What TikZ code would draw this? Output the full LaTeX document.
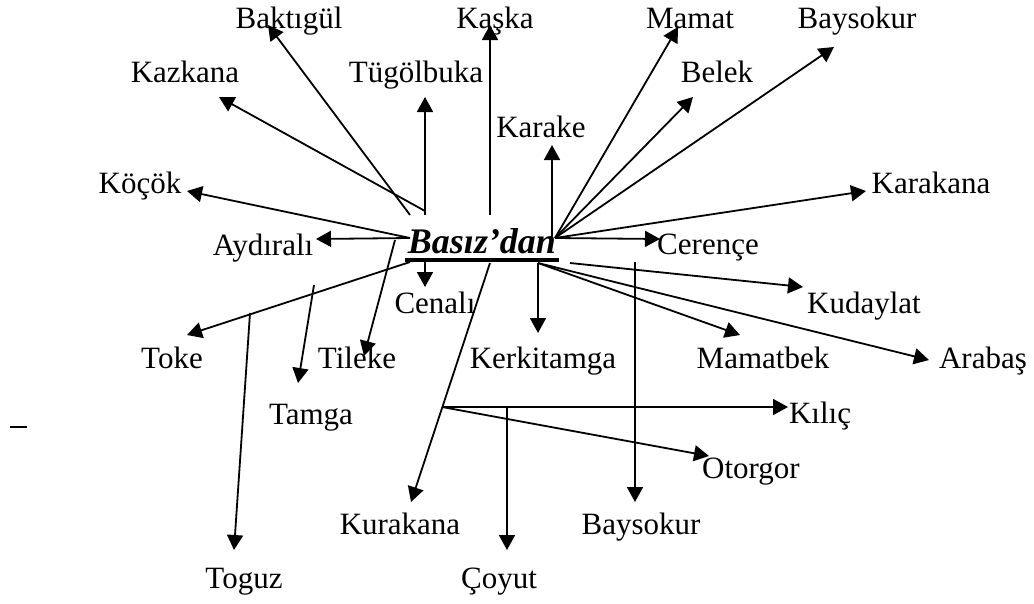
\documentclass[tikz,border=0pt]{standalone}
\usepackage{fontspec}
\setmainfont{Liberation Serif}
\usetikzlibrary{arrows.meta}
\begin{document}
\begin{tikzpicture}[x=1pt,y=-1pt,
  lbl/.style={anchor=base, inner sep=0pt, font=\fontsize{31}{37}\selectfont},
  hub/.style={anchor=base, inner sep=0pt, font=\fontsize{36}{42}\selectfont\bfseries\itshape},
  arr/.style={line width=1.8pt, -{Triangle[length=15pt,width=16pt]}},
  ln/.style={line width=1.8pt}]
\useasboundingbox (0,0) rectangle (1034,603);
% labels
\node[lbl] (baktigul) at (289,28) {Baktıgül};
\node[lbl] (kaska) at (495,28) {Kaşka};
\node[lbl] (mamat) at (690,28) {Mamat};
\node[lbl] (baysokurA) at (857,28) {Baysokur};
\node[lbl] (kazkana) at (185,82) {Kazkana};
\node[lbl] (tugolbuka) at (416,82) {Tügölbuka};
\node[lbl] (belek) at (717,82) {Belek};
\node[lbl] (karake) at (541,137) {Karake};
\node[lbl] (kocok) at (140,193) {Köçök};
\node[lbl] (karakana) at (931,193) {Karakana};
\node[lbl] (aydirali) at (263,255) {Aydıralı};
\node[hub] (basiz) at (482,253) {Basız’dan};
\node[lbl] (cerence) at (708,254) {Cerençe};
\node[lbl] (cenali) at (435,313) {Cenalı};
\node[lbl] (kudaylat) at (864,313) {Kudaylat};
\node[lbl] (toke) at (172,368) {Toke};
\node[lbl] (tileke) at (357,368) {Tileke};
\node[lbl] (kerkitamga) at (543,368) {Kerkitamga};
\node[lbl] (mamatbek) at (763,368) {Mamatbek};
\node[lbl] (arabas) at (983,368) {Arabaş};
\node[lbl] (tamga) at (311,424) {Tamga};
\node[lbl] (kilic) at (820,423) {Kılıç};
\node[lbl] (otorgor) at (751,478) {Otorgor};
\node[lbl] (kurakana) at (400,534) {Kurakana};
\node[lbl] (baysokurB) at (641,534) {Baysokur};
\node[lbl] (toguz) at (244,588) {Toguz};
\node[lbl] (coyut) at (499,588) {Çoyut};
% underline of the centre word and the stray dash
\coordinate (ulA) at (405,260);
\coordinate (ulB) at (559,260);
\draw[line width=3.5pt] (ulA) -- (ulB);
\coordinate (dashA) at (10,427);
\coordinate (dashB) at (27,427);
\draw[line width=2pt] (dashA) -- (dashB);
% start points
\coordinate (sBak) at (410,215);
\coordinate (sKaz) at (425,211);
\coordinate (sTug) at (425,215);
\coordinate (sKas) at (490,215);
\coordinate (hR) at (555,238);
\coordinate (sKarake) at (552,238);
\coordinate (hL) at (410,238);
\coordinate (sTil) at (395,240);
\coordinate (sToke) at (410,262);
\coordinate (sCen) at (425,262);
\coordinate (sKur) at (490,263);
\coordinate (hBR) at (538,263);
\coordinate (sKud) at (570,263);
\coordinate (sBayB) at (635,262);
\coordinate (jn) at (442,407);
\coordinate (sTog) at (250,313);
\coordinate (sTam) at (314,285);
% tips
\coordinate (tBak) at (268,25);
\coordinate (tKaz) at (219,97);
\coordinate (tTug) at (425,97);
\coordinate (tKas) at (490,25);
\coordinate (tKarake) at (552,145);
\coordinate (tMam) at (678,27);
\coordinate (tBel) at (693,97);
\coordinate (tBayA) at (834,47);
\coordinate (tKarakana) at (866,191);
\coordinate (tCer) at (660,239);
\coordinate (tKoc) at (187,191);
\coordinate (tAyd) at (316,239);
\coordinate (tCen) at (425,287);
\coordinate (tToke) at (187,335);
\coordinate (tTog) at (234,550);
\coordinate (tTam) at (298,383);
\coordinate (tTil) at (364,356);
\coordinate (tKur) at (411,502);
\coordinate (tKil) at (788,407);
\coordinate (tOto) at (709,456);
\coordinate (tCoy) at (507,550);
\coordinate (tKer) at (538,333);
\coordinate (tMbk) at (740,335);
\coordinate (tKud) at (803,287);
\coordinate (tAra) at (929,360);
\coordinate (tBayB) at (635,502);
% connectors
\draw[arr] (sBak) -- (tBak);
\draw[arr] (sKaz) -- (tKaz);
\draw[arr] (sTug) -- (tTug);
\draw[arr] (sKas) -- (tKas);
\draw[arr] (sKarake) -- (tKarake);
\draw[arr] (hR) -- (tMam);
\draw[arr] (hR) -- (tBel);
\draw[arr] (hR) -- (tBayA);
\draw[arr] (hR) -- (tKarakana);
\draw[arr] (hR) -- (tCer);
\draw[arr] (hL) -- (tKoc);
\draw[arr] (hL) -- (tAyd);
\draw[arr] (sCen) -- (tCen);
\draw[arr] (sToke) -- (tToke);
\draw[arr] (sTog) -- (tTog);
\draw[arr] (sTam) -- (tTam);
\draw[arr] (sTil) -- (tTil);
\draw[arr] (sKur) -- (tKur);
\draw[arr] (jn) -- (tKil);
\draw[arr] (jn) -- (tOto);
\draw[arr] (tCoy |- jn) -- (tCoy);
\draw[arr] (hBR) -- (tKer);
\draw[arr] (hBR) -- (tMbk);
\draw[arr] (hBR) -- (tAra);
\draw[arr] (sKud) -- (tKud);
\draw[arr] (sBayB) -- (tBayB);
\end{tikzpicture}
\end{document}
